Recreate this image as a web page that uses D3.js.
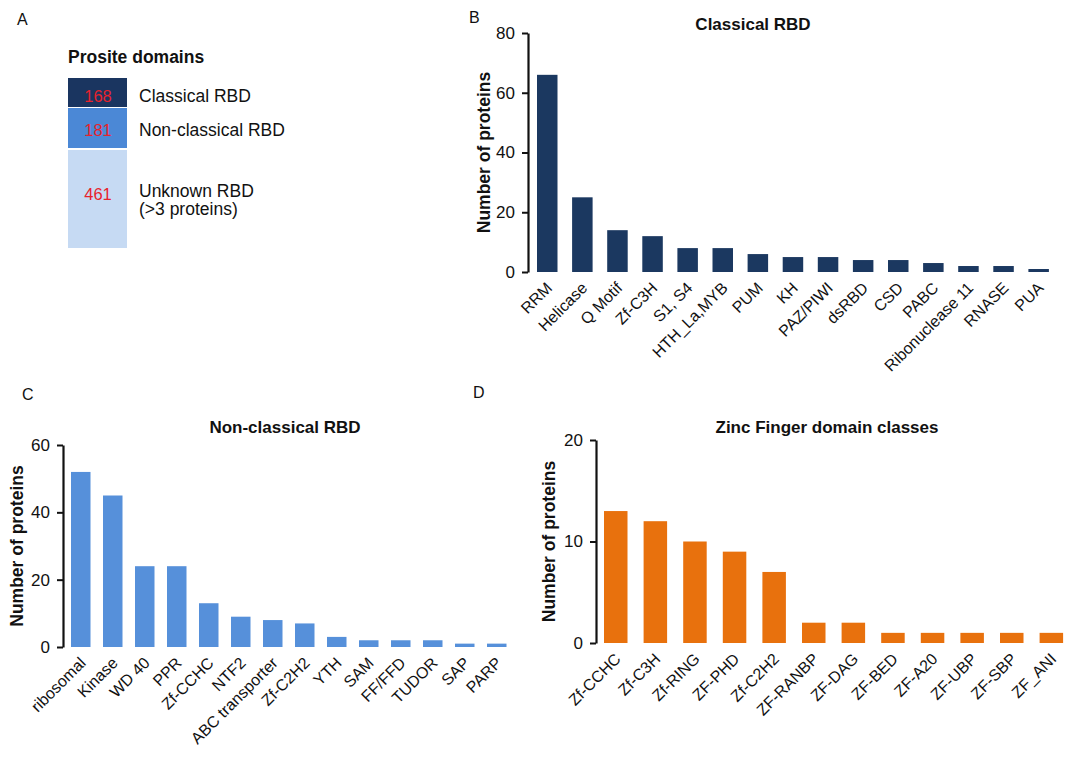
<!DOCTYPE html>
<html>
<head>
<meta charset="utf-8">
<script src="https://cdn.jsdelivr.net/npm/d3@7"></script>
<style>
  html, body { margin: 0; padding: 0; background: #ffffff; }
  svg { display: block; font-family: "Liberation Sans", Arial, Helvetica, sans-serif; }
</style>
</head>
<body>
<svg id="chart" width="1068" height="761"></svg>
<script>
// ---------- Data ----------
const prositeCategories = ["Classical RBD", "Non-classical RBD", "Unknown RBD"];
const prositeCounts = [168, 181, 461];
const prositeLabels = [["Classical RBD"], ["Non-classical RBD"], ["Unknown RBD", "(>3 proteins)"]];

const classicalCategories = ["RRM", "Helicase", "Q Motif", "Zf-C3H", "S1, S4", "HTH_La,MYB", "PUM", "KH",
  "PAZ/PIWI", "dsRBD", "CSD", "PABC", "Ribonuclease 11", "RNASE", "PUA"];
const classicalValues = [66, 25, 14, 12, 8, 8, 6, 5, 5, 4, 4, 3, 2, 2, 1];
const classicalTicks = [0, 20, 40, 60, 80];

const nonClassicalCategories = ["ribosomal", "Kinase", "WD 40", "PPR", "Zf-CCHC", "NTF2", "ABC transporter",
  "Zf-C2H2", "YTH", "SAM", "FF/FFD", "TUDOR", "SAP", "PARP"];
const nonClassicalValues = [52, 45, 24, 24, 13, 9, 8, 7, 3, 2, 2, 2, 1, 1];
const nonClassicalTicks = [0, 20, 40, 60];

const zincCategories = ["Zf-CCHC", "Zf-C3H", "Zf-RING", "ZF-PHD", "Zf-C2H2", "ZF-RANBP", "ZF-DAG", "ZF-BED",
  "ZF-A20", "ZF-UBP", "ZF-SBP", "ZF_ANI"];
const zincValues = [13, 12, 10, 9, 7, 2, 2, 1, 1, 1, 1, 1];
const zincTicks = [0, 10, 20];

// ---------- Drawing ----------
const svg = d3.select("#chart");
const FONT = '"Liberation Sans", Arial, Helvetica, sans-serif';

function panelLetter(t, x, y) {
  svg.append("text").attr("x", x).attr("y", y).attr("font-size", 16).attr("fill", "#111").text(t);
}

// Panel A : stacked Prosite domain block
panelLetter("A", 17, 25);
svg.append("text").attr("x", 68).attr("y", 63).attr("font-size", 17.5).attr("font-weight", "bold")
  .attr("fill", "#111").text("Prosite domains");

const aColors = ["#1a3560", "#4b88d6", "#c6daf3"];
const aBlocks = [[78, 107], [108, 148], [150, 248]];
const aScale = d3.scaleOrdinal().domain(prositeCategories).range(aBlocks);
const aG = svg.append("g");
prositeCategories.forEach((c, i) => {
  const [y1, y2] = aScale(c);
  aG.append("rect").attr("x", 68).attr("y", y1).attr("width", 59).attr("height", y2 - y1)
    .attr("fill", aColors[i]);
});
const aNumY = [102, 136, 200];
prositeCategories.forEach((c, i) => {
  aG.append("text").attr("x", 98).attr("y", aNumY[i]).attr("text-anchor", "middle")
    .attr("font-size", 16.5).attr("fill", "#e8222c").text(prositeCounts[i]);
});
const aLblY = [[102], [136], [197, 215]];
prositeLabels.forEach((lines, i) => {
  lines.forEach((l, j) => {
    aG.append("text").attr("x", 139).attr("y", aLblY[i][j]).attr("font-size", 17.5)
      .attr("fill", "#111").text(l);
  });
});

function barPanel(opts) {
  const { cats, vals, ticks, color, axisX, firstBar, step, barW, y0, yTop, title, titleX, titleY, yTitleX } = opts;
  const n = cats.length;
  const p = 1 - barW / step;
  const o = (firstBar - axisX) / step;
  const x = d3.scaleBand().domain(cats).range([axisX, axisX + step * (n - p + 2 * o)])
    .paddingInner(p).paddingOuter(o);
  const y = d3.scaleLinear().domain([0, d3.max(ticks)]).range([y0, yTop]);
  const g = svg.append("g");

  g.selectAll("rect.bar").data(cats).enter().append("rect")
    .attr("x", d => x(d)).attr("width", x.bandwidth())
    .attr("y", (d, i) => y(vals[i])).attr("height", (d, i) => y0 - y(vals[i]))
    .attr("fill", color);

  const ax = g.append("g").attr("transform", `translate(${axisX},0)`)
    .call(d3.axisLeft(y).tickValues(ticks).tickFormat(d3.format("d")).tickSizeOuter(0).tickSizeInner(6).tickPadding(7));
  ax.select(".domain").attr("stroke", "#111").attr("stroke-width", 2.2);
  ax.selectAll(".tick line").attr("stroke", "#111").attr("stroke-width", 2);
  ax.selectAll(".tick text").attr("font-size", 17).attr("font-family", FONT).attr("fill", "#111");

  g.selectAll("text.xl").data(cats).enter().append("text")
    .attr("transform", d => `translate(${x(d) + x.bandwidth() / 2 + 2},${y0 + 13}) rotate(-45)`)
    .attr("text-anchor", "end").attr("dy", "0.35em")
    .attr("font-size", 16).attr("fill", "#111").text(d => d);

  g.append("text").attr("x", titleX).attr("y", titleY).attr("text-anchor", "middle")
    .attr("font-size", 17).attr("font-weight", "bold").attr("fill", "#111").text(title);

  g.append("text").attr("transform", `translate(${yTitleX},${(y0 + yTop) / 2}) rotate(-90)`)
    .attr("text-anchor", "middle").attr("font-size", 17.5).attr("font-weight", "bold")
    .attr("fill", "#111").text("Number of proteins");
}

// Panel B
panelLetter("B", 469, 23);
barPanel({ cats: classicalCategories, vals: classicalValues, ticks: classicalTicks, color: "#1b3860",
  axisX: 528, firstBar: 537, step: 35.1, barW: 20.5, y0: 272, yTop: 33,
  title: "Classical RBD", titleX: 753, titleY: 30, yTitleX: 490 });

// Panel C
panelLetter("C", 22, 400);
barPanel({ cats: nonClassicalCategories, vals: nonClassicalValues, ticks: nonClassicalTicks, color: "#5690da",
  axisX: 63, firstBar: 71, step: 32, barW: 19.5, y0: 647, yTop: 445,
  title: "Non-classical RBD", titleX: 285, titleY: 433, yTitleX: 23 });

// Panel D
panelLetter("D", 473, 398);
barPanel({ cats: zincCategories, vals: zincValues, ticks: zincTicks, color: "#e8710d",
  axisX: 596, firstBar: 604, step: 39.6, barW: 23.5, y0: 643, yTop: 440,
  title: "Zinc Finger domain classes", titleX: 827, titleY: 433, yTitleX: 555 });
</script>
</body>
</html>
